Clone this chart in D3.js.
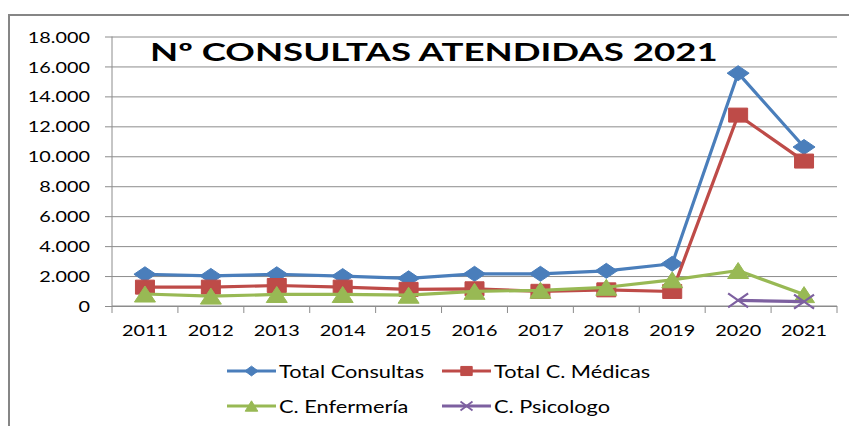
<!DOCTYPE html>
<html>
<head>
<meta charset="utf-8">
<script src="https://cdn.jsdelivr.net/npm/d3@7"></script>
<style>
  body { margin: 0; background: #fff; }
  svg { display: block; }
  text { font-family: Lato, "Liberation Sans", sans-serif; fill: #000; }
</style>
</head>
<body>
<div id="chart"></div>
<script>
// values
var years = ["2011","2012","2013","2014","2015","2016","2017","2018","2019","2020","2021"];
var totalConsultas = [2120, 2010, 2120, 2000, 1850, 2150, 2150, 2350, 2820, 15550, 10620];
var totalMedicas   = [1260, 1260, 1370, 1260, 1110, 1150, 980, 1080, 970, 12750, 9680];
var enfermeria     = [800, 660, 770, 770, 720, 980, 1050, 1250, 1750, 2370, 760];
var psicologo      = [null, null, null, null, null, null, null, null, null, 380, 290];
var yTicks = [0, 2000, 4000, 6000, 8000, 10000, 12000, 14000, 16000, 18000];
var seriesNames = ["Total Consultas", "Total C. Médicas", "C. Enfermería", "C. Psicologo"];

var W = 849, H = 426;
var sx = 1.28; // the original picture is stretched sideways

var svg = d3.select("#chart").append("svg")
    .attr("width", W)
    .attr("height", H);

// outer frame
svg.append("rect")
    .attr("x", 9).attr("y", 15)
    .attr("width", W + 10).attr("height", H + 10)
    .attr("fill", "#fff")
    .attr("stroke", "#868686")
    .attr("stroke-width", 2);

var plotLeft = 112, plotRight = 837, plotTop = 36.5, plotBottom = 306;

var x = d3.scaleBand().domain(years).range([plotLeft, plotRight]).padding(0);
var y = d3.scaleLinear().domain([0, 18000]).range([plotBottom, plotTop]);

var loc = d3.formatLocale({decimal: ",", thousands: ".", grouping: [3], currency: ["", ""]});
var fmt = loc.format(",");

// gridlines
svg.append("g")
    .attr("transform", "translate(" + plotLeft + ",0)")
    .call(d3.axisLeft(y).tickValues(yTicks).tickSize(-(plotRight - plotLeft)).tickFormat(""))
    .call(function(g) {
        g.select(".domain").remove();
        g.selectAll("line").attr("stroke", "#8c8c8c").attr("stroke-width", 1);
    });

// y axis
var yAxis = svg.append("g")
    .attr("transform", "translate(" + plotLeft + ",0)")
    .call(d3.axisLeft(y).tickValues(yTicks).tickSize(7).tickFormat(fmt));
yAxis.select(".domain").attr("stroke", "#8c8c8c").attr("d", "M0," + plotTop + "V" + plotBottom);
yAxis.selectAll("line").attr("stroke", "#8c8c8c");
yAxis.selectAll("text")
    .attr("font-size", 15.5)
    .attr("x", -22 / sx)
    .attr("dy", "0.36em")
    .attr("transform", "scale(" + sx + ",1)")
    .attr("fill", "#000")
    .style("font-family", "Lato, sans-serif");

// x axis
var xAxis = svg.append("g")
    .attr("transform", "translate(0," + plotBottom + ")");
xAxis.append("line")
    .attr("x1", plotLeft).attr("x2", plotRight)
    .attr("stroke", "#8c8c8c");
xAxis.selectAll(".tk")
    .data(years.concat(["end"]))
    .enter().append("line")
    .attr("x1", function(d, i) { return i < years.length ? x(d) : plotRight; })
    .attr("x2", function(d, i) { return i < years.length ? x(d) : plotRight; })
    .attr("y1", 0).attr("y2", 7)
    .attr("stroke", "#8c8c8c");
xAxis.selectAll(".lbl")
    .data(years)
    .enter().append("text")
    .attr("transform", function(d) { return "translate(" + (x(d) + x.bandwidth() / 2) + ",30) scale(" + sx + ",1)"; })
    .attr("text-anchor", "middle")
    .attr("font-size", 15.5)
    .text(function(d) { return d; });

// title
var title = svg.append("text")
    .attr("x", 150).attr("y", 61)
    .attr("font-size", 24)
    .attr("font-weight", "bold")
    .text("Nº CONSULTAS ATENDIDAS 2021");
var tw = title.node().getComputedTextLength();
title.attr("transform", "translate(150,0) scale(" + (568 / tw) + ",1) translate(-150,0)");

// marker shapes (w, h = half width / half height)
function markerPath(type, w, h) {
    if (type === "diamond") return "M0," + (-h) + "L" + w + ",0L0," + h + "L" + (-w) + ",0Z";
    if (type === "square") return "M" + (-w) + "," + (-h) + "H" + w + "V" + h + "H" + (-w) + "Z";
    if (type === "triangle") return "M0," + (-h) + "L" + w + "," + h + "L" + (-w) + "," + h + "Z";
    return "M" + (-w) + "," + (-h) + "L" + w + "," + h + "M" + (-w) + "," + h + "L" + w + "," + (-h);
}

var series = [
    {name: seriesNames[0], values: totalConsultas, color: "#4a7ebb", marker: "diamond", w: 11, h: 7.5},
    {name: seriesNames[1], values: totalMedicas, color: "#be4b48", marker: "square", w: 9.5, h: 7},
    {name: seriesNames[2], values: enfermeria, color: "#98b954", marker: "triangle", w: 10.5, h: 8},
    {name: seriesNames[3], values: psicologo, color: "#7d60a0", marker: "x", w: 10, h: 7}
];

var line = d3.line()
    .defined(function(d) { return d.v != null; })
    .x(function(d) { return x(d.year) + x.bandwidth() / 2; })
    .y(function(d) { return y(d.v); });

series.forEach(function(s) {
    var pts = years.map(function(yr, i) { return {year: yr, v: s.values[i]}; });
    var g = svg.append("g");
    g.append("path")
        .attr("d", line(pts))
        .attr("fill", "none")
        .attr("stroke", s.color)
        .attr("stroke-width", 3.2)
        .attr("stroke-linejoin", "round");
    g.selectAll("path.mk")
        .data(pts.filter(function(d) { return d.v != null; }))
        .enter().append("path")
        .attr("class", "mk")
        .attr("transform", function(d) { return "translate(" + (x(d.year) + x.bandwidth() / 2) + "," + y(d.v) + ")"; })
        .attr("d", markerPath(s.marker, s.w, s.h))
        .attr("fill", s.marker === "x" ? "none" : s.color)
        .attr("stroke", s.color)
        .attr("stroke-width", s.marker === "x" ? 2.2 : 1);
});

// legend
var legendPos = [
    {lx: 227, ly: 371},
    {lx: 442, ly: 371},
    {lx: 227, ly: 406},
    {lx: 442, ly: 406}
];
series.forEach(function(s, i) {
    var p = legendPos[i];
    var g = svg.append("g").attr("transform", "translate(" + p.lx + "," + p.ly + ")");
    g.append("line")
        .attr("x1", 0).attr("x2", 49)
        .attr("stroke", s.color)
        .attr("stroke-width", 3.2);
    g.append("path")
        .attr("transform", "translate(24.5,0)")
        .attr("d", markerPath(s.marker, s.w * 0.6, s.h * 0.65))
        .attr("fill", s.marker === "x" ? "none" : s.color)
        .attr("stroke", s.color)
        .attr("stroke-width", s.marker === "x" ? 1.8 : 1);
    g.append("text")
        .attr("transform", "translate(52,6.5) scale(" + sx + ",1)")
        .attr("font-size", 17)
        .text(s.name);
});
</script>
</body>
</html>
